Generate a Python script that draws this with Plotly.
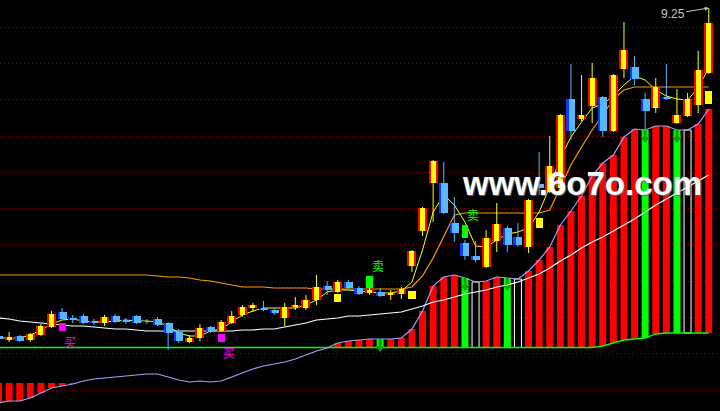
import plotly.graph_objects as go

# ---------------- data ----------------
idx = list(range(68))

open_ = [5.97, 5.93, 5.97, 5.93, 5.98, 6.06, 6.21, 6.15, 6.17, 6.12,
         6.10, 6.17, 6.13, 6.17, 6.12, 6.14, 6.10, 6.01, 5.91, 5.95,
         6.06, 6.02, 6.10, 6.18, 6.25, 6.25, 6.23, 6.15, 6.26, 6.25,
         6.33, 6.47, 6.41, 6.51, 6.45, 6.40, 6.41, 6.38, 6.39, 6.67,
         7.02, 7.50, 7.50, 7.10, 6.90, 6.77, 6.66, 6.92, 7.05, 6.96,
         6.86, 7.49, 7.41, 7.45, 8.34, 8.14, 8.27, 8.36, 8.02, 8.64,
         8.66, 8.34, 8.25, 8.36, 8.10, 8.17, 8.28, 8.60]
high = [5.99, 6.01, 5.98, 6.00, 6.09, 6.22, 6.25, 6.18, 6.19, 6.14,
        6.18, 6.19, 6.15, 6.18, 6.14, 6.16, 6.11, 6.04, 5.98, 6.09,
        6.07, 6.13, 6.22, 6.28, 6.30, 6.32, 6.25, 6.30, 6.36, 6.38,
        6.58, 6.52, 6.53, 6.53, 6.47, 6.45, 6.45, 6.43, 6.46, 6.83,
        7.26, 7.73, 7.71, 7.36, 6.93, 6.92, 7.03, 7.30, 7.07, 7.10,
        7.34, 7.81, 7.97, 8.19, 8.69, 8.58, 8.70, 8.37, 8.59, 9.11,
        8.77, 8.40, 8.55, 8.69, 8.44, 8.40, 8.82, 9.25]
low = [5.92, 5.91, 5.91, 5.91, 5.97, 6.05, 6.13, 6.10, 6.09, 6.08,
       6.07, 6.10, 6.09, 6.09, 6.09, 6.07, 5.83, 5.90, 5.90, 5.92,
       6.00, 6.01, 6.09, 6.16, 6.21, 6.22, 6.18, 6.07, 6.23, 6.23,
       6.28, 6.38, 6.40, 6.44, 6.38, 6.38, 6.36, 6.33, 6.34, 6.61,
       6.97, 7.11, 7.19, 6.91, 6.73, 6.71, 6.65, 6.81, 6.81, 6.86,
       6.80, 7.38, 7.40, 7.43, 7.93, 8.12, 8.10, 7.96, 8.01, 8.55,
       8.48, 8.02, 8.20, 8.33, 8.09, 8.16, 8.20, 8.59]
close = [5.94, 5.96, 5.92, 5.99, 6.07, 6.19, 6.14, 6.13, 6.10, 6.10,
         6.16, 6.11, 6.11, 6.10, 6.11, 6.08, 6.00, 5.92, 5.95, 6.05,
         6.01, 6.11, 6.17, 6.26, 6.28, 6.23, 6.20, 6.26, 6.28, 6.33,
         6.46, 6.43, 6.51, 6.45, 6.39, 6.43, 6.37, 6.40, 6.44, 6.82,
         7.25, 7.72, 7.20, 7.00, 6.77, 6.73, 6.95, 7.09, 6.88, 6.88,
         7.33, 7.45, 7.67, 8.18, 8.02, 8.18, 8.55, 8.02, 8.58, 8.83,
         8.54, 8.22, 8.46, 8.34, 8.18, 8.34, 8.63, 9.10]

ma_fast = [5.95, 5.95, 5.95, 5.98, 6.03, 6.09, 6.13, 6.14, 6.12, 6.11,
           6.11, 6.12, 6.13, 6.12, 6.12, 6.11, 6.07, 6.00, 5.97, 5.97,
           6.02, 6.04, 6.11, 6.18, 6.22, 6.25, 6.25, 6.25, 6.25, 6.28,
           6.33, 6.41, 6.43, 6.43, 6.42, 6.41, 6.40, 6.40, 6.42, 6.51,
           6.83, 7.21, 7.38, 7.28, 7.11, 6.87, 6.86, 6.93, 6.99, 7.01,
           7.05, 7.21, 7.46, 7.75, 7.96, 8.11, 8.25, 8.29, 8.37, 8.48,
           8.57, 8.53, 8.43, 8.37, 8.34, 8.33, 8.45, 8.65]
ma_stop = [6.58] * 15 + [6.57, 6.56, 6.56, 6.55, 6.53, 6.52, 6.50, 6.48, 6.46, 6.46, 6.46] \
          + [6.45] * 4 + [6.44] * 9 + [6.46, 6.57, 6.75, 6.96, 7.18] + [7.20] * 8 \
          + [7.23, 7.46, 7.68, 7.86, 8.03, 8.18, 8.34, 8.43] + [8.46] * 8
ma_slow = [6.15, 6.14, 6.12, 6.11, 6.10, 6.09, 6.08, 6.07, 6.07, 6.06,
           6.05, 6.04, 6.04, 6.03, 6.02, 6.02, 6.02, 6.02, 6.02, 6.02,
           6.02, 6.02, 6.02, 6.03, 6.03, 6.04, 6.04, 6.06, 6.08, 6.10,
           6.13, 6.14, 6.15, 6.17, 6.17, 6.18, 6.19, 6.20, 6.21, 6.24,
           6.27, 6.31, 6.33, 6.36, 6.39, 6.41, 6.43, 6.46, 6.48, 6.51,
           6.55, 6.59, 6.65, 6.72, 6.78, 6.85, 6.91, 6.96, 7.02, 7.08,
           7.14, 7.21, 7.28, 7.34, 7.40, 7.46, 7.52, 7.58]

osc = [5.30, 5.32, 5.32, 5.35, 5.40, 5.45, 5.47, 5.49, 5.52, 5.54,
       5.55, 5.56, 5.57, 5.58, 5.59, 5.59, 5.56, 5.53, 5.51, 5.52,
       5.51, 5.52, 5.56, 5.60, 5.64, 5.67, 5.69, 5.71, 5.74, 5.78,
       5.82, 5.85, 5.90, 5.92, 5.93, 5.94, 5.94, 5.94, 5.95, 6.04,
       6.22, 6.47, 6.56, 6.58, 6.55, 6.51, 6.52, 6.56, 6.55, 6.54,
       6.62, 6.73, 6.86, 7.08, 7.22, 7.37, 7.57, 7.70, 7.78, 7.96,
       8.04, 8.03, 8.07, 8.07, 8.03, 8.03, 8.09, 8.24]
osc_base = [5.855] * 57 + [5.87, 5.90, 5.93, 5.94, 5.95, 5.99] + [6.00] * 5
osc_floor = 5.50
hist_kind = ['R'] * 8 + [''] * 24 + ['R'] * 4 + ['G'] + ['R'] * 7 \
            + ['G', 'W', 'R', 'R', 'G', 'W'] + ['R'] * 11 + ['G', 'R', 'R', 'G', 'W', 'R', 'R']

mark_idx = [32, 39, 51, 67]
mark_top = [6.39, 6.42, 7.15, 8.42]
mark_bot = [6.31, 6.34, 7.05, 8.29]
buy_idx = [6, 21]
buy_top = [6.10, 5.99]
buy_bot = [6.02, 5.91]
sell_idx = [35, 44]
sell_top = [6.57, 7.08]
sell_bot = [6.45, 6.95]

grid_levels = [9.06, 8.70, 8.34, 7.97, 7.61, 7.25, 6.89, 6.52, 6.16, 5.80, 5.43]
y_range = [5.22, 9.33]
x_range = [0.14, 68.06]

# ---------------- figure ----------------
fig = go.Figure()

# oscillator histogram (base layer)
kind_fill = {'R': '#ff0000', 'G': '#00ff00', 'W': 'rgba(0,0,0,0)'}
kind_lw = {'R': 0, 'G': 0, 'W': 1}
hx, hb, hh, hf, hl = [], [], [], [], []
for i in idx:
    k = hist_kind[i]
    if not k:
        continue
    v = osc[i]
    b = osc_floor if v < osc_floor else osc_base[i]
    hx.append(i); hb.append(b); hh.append(v - b)
    hf.append(kind_fill[k]); hl.append(kind_lw[k])
fig.add_trace(go.Bar(x=hx, y=hh, base=hb, width=0.66,
                     marker=dict(color=hf, line=dict(color='#ffffff', width=hl)),
                     hoverinfo='skip', showlegend=False))

fig.add_trace(go.Scatter(x=idx, y=osc_base, mode='lines',
                         line=dict(color='#00ff00', width=1.3), hoverinfo='skip', showlegend=False))
fig.add_trace(go.Scatter(x=idx, y=osc, mode='lines',
                         line=dict(color='#a0a0ff', width=1.2), hoverinfo='skip', showlegend=False))

# arrows on green bars
g_idx = [i for i in idx if hist_kind[i] == 'G']
fig.add_trace(go.Scatter(x=g_idx, y=[osc[i] - 0.04 for i in g_idx], mode='markers',
                         marker=dict(symbol='line-ns', size=6, line=dict(color='#00a800', width=3)),
                         hoverinfo='skip', showlegend=False))
fig.add_trace(go.Scatter(x=g_idx, y=[osc[i] - 0.09 for i in g_idx], mode='markers',
                         marker=dict(symbol='triangle-down', size=8, color='#00a800'),
                         hoverinfo='skip', showlegend=False))

# moving lines
fig.add_trace(go.Scatter(x=idx, y=ma_slow, mode='lines',
                         line=dict(color='#ffffff', width=1.2), hoverinfo='skip', showlegend=False))
fig.add_trace(go.Scatter(x=idx, y=ma_stop, mode='lines',
                         line=dict(color='#ff9900', width=1.2), hoverinfo='skip', showlegend=False))
fig.add_trace(go.Scatter(x=idx, y=ma_fast, mode='lines',
                         line=dict(color='#ffff00', width=1.0), hoverinfo='skip', showlegend=False))

# ---------------- candles (overlay layer) ----------------
up = [i for i in idx if close[i] >= open_[i]]
dn = [i for i in idx if close[i] < open_[i]]
MINH = 0.012


def wick(ids):
    xs, ys = [], []
    for i in ids:
        xs += [i, i, None]
        ys += [low[i], high[i], None]
    return xs, ys


wx, wy = wick(up)
fig.add_trace(go.Scatter(x=wx, y=wy, mode='lines', line=dict(color='#ffff00', width=1),
                         xaxis='x2', yaxis='y2', hoverinfo='skip', showlegend=False))
wx, wy = wick(dn)
fig.add_trace(go.Scatter(x=wx, y=wy, mode='lines', line=dict(color='#58b8ff', width=1),
                         xaxis='x2', yaxis='y2', hoverinfo='skip', showlegend=False))

up_base = [open_[i] for i in up]
up_h = [max(close[i] - open_[i], MINH) for i in up]
dn_base = [close[i] for i in dn]
dn_h = [max(open_[i] - close[i], MINH) for i in dn]

fig.add_trace(go.Bar(x=up, y=up_h, base=up_base, width=0.85, marker=dict(color='#ff0000', line_width=0),
                     xaxis='x2', yaxis='y2', hoverinfo='skip', showlegend=False))
fig.add_trace(go.Bar(x=up, y=up_h, base=up_base, width=0.47, marker=dict(color='#ffff00', line_width=0),
                     xaxis='x2', yaxis='y2', hoverinfo='skip', showlegend=False))
fig.add_trace(go.Bar(x=dn, y=dn_h, base=dn_base, width=0.85, marker=dict(color='#58b8ff', line_width=0),
                     xaxis='x2', yaxis='y2', hoverinfo='skip', showlegend=False))
fig.add_trace(go.Bar(x=dn, y=dn_h, base=dn_base, width=0.2, offset=-0.425,
                     marker=dict(color='#0a3cff', line_width=0),
                     xaxis='x2', yaxis='y2', hoverinfo='skip', showlegend=False))

# signal blocks
fig.add_trace(go.Bar(x=mark_idx, y=[t - b for t, b in zip(mark_top, mark_bot)], base=mark_bot, width=0.68,
                     marker=dict(color='#ffff00', line_width=0),
                     xaxis='x2', yaxis='y2', hoverinfo='skip', showlegend=False))
fig.add_trace(go.Bar(x=buy_idx, y=[t - b for t, b in zip(buy_top, buy_bot)], base=buy_bot, width=0.68,
                     marker=dict(color='#ff00ff', line_width=0),
                     xaxis='x2', yaxis='y2', hoverinfo='skip', showlegend=False))
fig.add_trace(go.Bar(x=sell_idx, y=[t - b for t, b in zip(sell_top, sell_bot)], base=sell_bot, width=0.6,
                     marker=dict(color='#00ff00', line_width=0),
                     xaxis='x2', yaxis='y2', hoverinfo='skip', showlegend=False))

annotations = []
for i, b in zip(buy_idx, buy_bot):
    annotations.append(dict(x=i, y=b, xref='x', yref='y', text='买', showarrow=False,
                            xanchor='left', yanchor='top',
                            font=dict(family='Noto Sans CJK SC', size=12, color='#ff00ff')))
for i, t in zip(sell_idx, sell_top):
    annotations.append(dict(x=i, y=t, xref='x', yref='y', text='卖', showarrow=False,
                            xanchor='left', yanchor='bottom',
                            font=dict(family='Noto Sans CJK SC', size=12, color='#00ff00')))

last = idx[-1]
annotations.append(dict(x=last, y=high[last], xref='x', yref='y', text='%.2f' % high[last],
                        showarrow=True, ax=-36, ay=6, arrowhead=2, arrowsize=0.8, arrowwidth=1,
                        arrowcolor='#c8c8c8', standoff=0,
                        font=dict(family='Liberation Sans', size=12, color='#c8c8c8')))

annotations.append(dict(x=0.808, y=0.553, xref='paper', yref='paper', text='<b>www.6o7o.com</b>',
                        showarrow=False, xanchor='center', yanchor='middle',
                        font=dict(family='Liberation Sans', size=33, color='#ffffff',
                                  shadow='1px 1px 1px #666666')))

fig.update_layout(
    width=720, height=411,
    margin=dict(l=0, r=0, t=0, b=0),
    paper_bgcolor='#000000', plot_bgcolor='#000000',
    barmode='overlay', bargap=0,
    showlegend=False,
    hovermode=False,
    annotations=annotations,
    xaxis=dict(range=x_range, showgrid=False, zeroline=False, showticklabels=False,
               showline=False, ticks=''),
    yaxis=dict(range=y_range, tickvals=grid_levels, showticklabels=False, ticks='',
               showgrid=True, gridcolor='#8a0000', gridwidth=1, griddash='1px,3px',
               zeroline=False, showline=False),
    xaxis2=dict(range=x_range, overlaying='x', visible=False),
    yaxis2=dict(range=y_range, overlaying='y', visible=False),
)

fig.write_html('out.html', config={'displayModeBar': False, 'staticPlot': True},
               post_script="document.body.style.margin='0px';document.body.style.background='#000';")
